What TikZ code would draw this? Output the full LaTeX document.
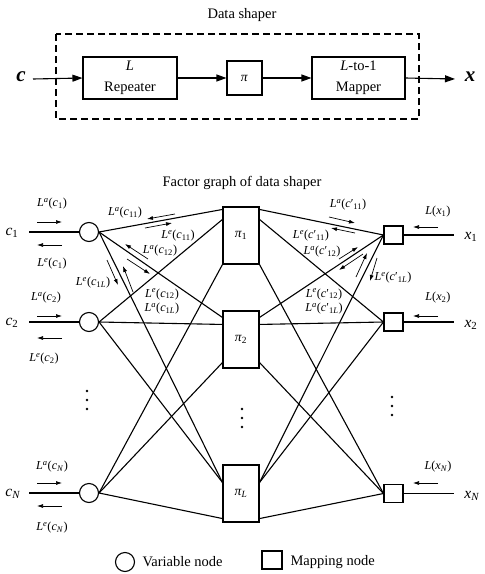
\documentclass[tikz,border=0pt]{standalone}
\usepackage{fontspec}
\setmainfont{Liberation Serif}
\usetikzlibrary{arrows.meta,calc}
\newcommand{\bigf}{\fontsize{14.5}{21}\selectfont}
\newcommand{\smf}{\fontsize{12.2}{14.5}\selectfont}
\newcommand{\pif}{\fontsize{13.5}{14}\selectfont}
\newcommand{\msgA}[1]{\textit{L}\textsuperscript{\textit{a}}(#1)}
\newcommand{\msgE}[1]{\textit{L}\textsuperscript{\textit{e}}(#1)}
\newcommand{\cvar}[1]{\textit{c}\textsubscript{#1}}
\newcommand{\cpr}[1]{\textit{c}′\textsubscript{#1}}
\begin{document}
\begin{tikzpicture}[x=1pt,y=-1pt,line width=1.1pt,
  every node/.style={inner sep=0pt},
  blk/.style={draw,align=center,font=\bigf,minimum width=94pt,minimum height=42pt},
  pibox/.style={draw,font=\pif,minimum width=36pt,minimum height=57pt},
  varnode/.style={circle,draw,minimum size=19pt},
  mapnode/.style={draw,minimum width=19pt,minimum height=18pt},
  bigarrow/.style={-{Triangle[length=10pt,width=7pt]}},
  msg/.style={-{Latex[length=6pt,width=4pt]},line width=0.7pt},
  lbl/.style={font=\smf},
  io/.style={font=\fontsize{15.5}{17}\selectfont},
  ttl/.style={font=\bigf},
  dot/.style={circle,fill,minimum size=2.8pt}]
\useasboundingbox (0,0) rectangle (485,574);

% ---------- Data shaper ----------
\node[ttl] (t1) at (242,15) {Data shaper};
\draw[dashed,dash pattern=on 7pt off 4pt] (56,34) rectangle (419,119);
\node[blk] (rep) at (130,78) {\textit{L}\\Repeater};
\node[draw,font=\pif,minimum width=35pt,minimum height=34pt] (pi) at (244.5,78) {\textit{π}};
\node[blk,minimum width=93pt] (map) at (358.5,78) {\textit{L}-to-1\\Mapper};
\node[font=\fontsize{21}{21}\selectfont\bfseries\itshape] (cin) at (21,77) {c};
\node[font=\fontsize{21}{21}\selectfont\bfseries\itshape] (xout) at (470,77) {x};
\coordinate (cinp) at (33,79);
\coordinate (xoutp) at (455,79);
\draw[bigarrow] (cinp) -- (rep.west);
\draw[bigarrow] (rep.east) -- (pi.west);
\draw[bigarrow] (pi.east) -- (map.west);
\draw[bigarrow] (map.east) -- (xoutp);

% ---------- Factor graph ----------
\node[ttl] (t2) at (242,183) {Factor graph of data shaper};

\node[varnode] (v1) at (89,232) {};
\node[varnode] (v2) at (89,322) {};
\node[varnode] (vN) at (89,493) {};
\node[pibox] (p1) at (241,235.5) {\textit{π}\textsubscript{1}};
\node[pibox] (p2) at (241,339.5) {\textit{π}\textsubscript{2}};
\node[pibox] (pL) at (241,493.5) {\textit{π}\textsubscript{\textit{L}}};
\node[mapnode] (m1) at (393.5,235) {};
\node[mapnode] (m2) at (393.5,322) {};
\node[mapnode] (mN) at (393.5,493.5) {};

% inputs / outputs
\node[io] (c1) at (12,233) {\cvar{1}};
\node[io] (c2) at (12,323) {\cvar{2}};
\node[io] (cN) at (13,494) {\cvar{\textit{N}}};
\node[io] (x1) at (471,237) {\textit{x}\textsubscript{1}};
\node[io] (x2) at (471,325) {\textit{x}\textsubscript{2}};
\node[io] (xN) at (472,496) {\textit{x}\textsubscript{\textit{N}}};
\coordinate (c1e) at (29,232); \coordinate (c2e) at (29,322); \coordinate (cNe) at (29,493);
\coordinate (x1e) at (454,235); \coordinate (x2e) at (454,322); \coordinate (xNe) at (454,493.5);
\draw (c1e) -- (v1); \draw (c2e) -- (v2); \draw (cNe) -- (vN);
\draw (m1) -- (x1e); \draw (m2) -- (x2e); \draw (mN) -- (xNe);

% left edges
\draw (v1.east) -- ($(p1.north west)+(0,3)$);
\draw (v1.east) -- ($(p2.north west)+(0,7)$);
\draw (v1.east) -- ($(pL.north west)+(0,18)$);
\draw (v2.east) -- ($(p1.north west)+(0,13)$);
\draw (v2.east) -- ($(p2.north west)+(0,14)$);
\draw (v2.east) -- ($(pL.north west)+(0,18)$);
\draw (vN.east) -- (p1.south west);
\draw (vN.east) -- ($(p2.south west)+(0,-6)$);
\draw (vN.east) -- ($(pL.south west)+(0,-4)$);
% right edges
\draw (m1.west) -- ($(p1.north east)+(0,3)$);
\draw (m1.west) -- ($(p2.north east)+(0,7)$);
\draw (m1.west) -- ($(pL.north east)+(0,18)$);
\draw (m2.west) -- ($(p1.north east)+(0,13)$);
\draw (m2.west) -- ($(p2.north east)+(0,14)$);
\draw (m2.west) -- ($(pL.north east)+(0,18)$);
\draw (mN.west) -- (p1.south east);
\draw (mN.west) -- ($(p2.south east)+(0,-6)$);
\draw (mN.west) -- ($(pL.south east)+(0,-4)$);

% messages at inputs
\draw[msg] (37,222) -- (62,222);  \draw[msg] (62,245) -- (37,245);
\node[lbl] (la1) at (52,204) {\msgA{\cvar{1}}};
\node[lbl] (le1) at (52,264) {\msgE{\cvar{1}}};
\draw[msg] (37,316) -- (62,316);  \draw[msg] (62,338) -- (37,338);
\node[lbl] (la2) at (46,298) {\msgA{\cvar{2}}};
\node[lbl] (le2) at (44,359) {\msgE{\cvar{2}}};
\draw[msg] (37,483) -- (62,483);  \draw[msg] (62,506) -- (37,506);
\node[lbl] (laN) at (52,467) {\msgA{\cvar{\textit{N}}}};
\node[lbl] (leN) at (52,528) {\msgE{\cvar{\textit{N}}}};
% messages at outputs
\draw[msg] (438,227) -- (413,227);
\node[lbl] (lx1) at (438,212) {\textit{L}(\textit{x}\textsubscript{1})};
\draw[msg] (438,316) -- (413,316);
\node[lbl] (lx2) at (438,298) {\textit{L}(\textit{x}\textsubscript{2})};
\draw[msg] (438,483) -- (413,483);
\node[lbl] (lxN) at (438,467) {\textit{L}(\textit{x}\textsubscript{\textit{N}})};

% interior messages, left
\draw[msg] (175,214) -- (147,219);
\draw[msg] (145,228) -- (172,223);
\node[lbl] (a11) at (125,213) {\msgA{\cvar{11}}};
\node[lbl] (e11) at (178,236) {\msgE{\cvar{11}}};
\draw[msg] (148,259) -- (125,244);
\draw[msg] (127,259) -- (150,274);
\node[lbl] (a12) at (160,251) {\msgA{\cvar{12}}};
\draw[msg] (107,260) -- (118,285);
\draw[msg] (133,292) -- (123,266);
\node[lbl] (e1L) at (93,283) {\msgE{\cvar{1\textit{L}}}};
\node[lbl,align=center] (e12a1L) at (162,301.5) {\msgE{\cvar{12}}\\\msgA{\cvar{1\textit{L}}}};

% interior messages, right
\node[lbl] (a11r) at (348,205) {\msgA{\cpr{11}}};
\draw[msg] (329,217) -- (355,223);
\draw[msg] (355,233) -- (331,228);
\node[lbl] (e11r) at (311,236) {\msgE{\cpr{11}}};
\node[lbl] (a12r) at (322,252) {\msgA{\cpr{12}}};
\draw[msg] (339,259) -- (358,247);
\draw[msg] (363,254) -- (339,270);
\draw[msg] (356,277) -- (367,253);
\draw[msg] (377,258) -- (370,281);
\node[lbl] (e1Lr) at (393,278) {\msgE{\cpr{1\textit{L}}}};
\node[lbl,align=center] (e12a1Lr) at (324,301.5) {\msgE{\cpr{12}}\\\msgA{\cpr{1\textit{L}}}};

% dots
\foreach \yy [count=\i] in {391,400,409} \node[dot] (dl\i) at (87,\yy) {};
\foreach \yy [count=\i] in {397,406,415} \node[dot] (dr\i) at (392,\yy) {};
\foreach \yy [count=\i] in {409,418,427} \node[dot] (dm\i) at (242,\yy) {};

% legend
\node[varnode] (legv) at (125,562) {};
\node[font=\bigf,anchor=west] (legvt) at (142,562) {Variable node};
\node[mapnode,minimum width=20pt] (legm) at (272,560) {};
\node[font=\bigf,anchor=west] (legmt) at (290,562) {Mapping node};
\end{tikzpicture}
\end{document}
